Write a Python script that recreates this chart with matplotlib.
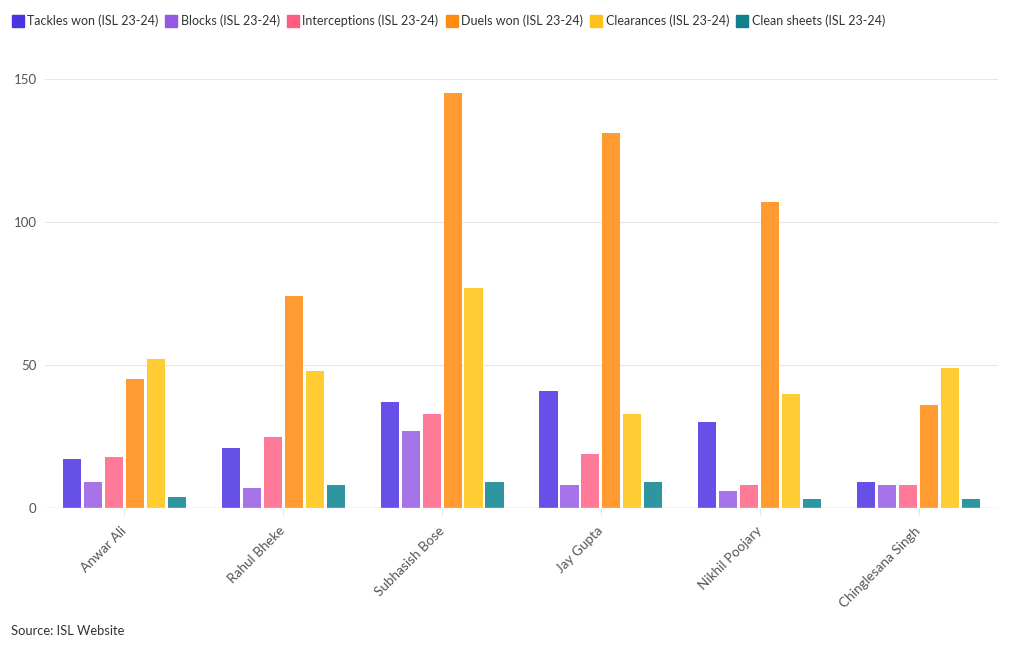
import numpy as np
import matplotlib.pyplot as plt
from matplotlib.lines import Line2D

# Data
players = ["Anwar Ali", "Rahul Bheke", "Subhasish Bose", "Jay Gupta",
           "Nikhil Poojary", "Chinglesana Singh"]
tackles = [17, 21, 37, 41, 30, 9]
blocks = [9, 7, 27, 8, 6, 8]
interceptions = [18, 25, 33, 19, 8, 8]
duels = [45, 74, 145, 131, 107, 36]
clearances = [52, 48, 77, 33, 40, 49]
clean_sheets = [4, 8, 9, 9, 3, 3]

series_names = ["Tackles won (ISL 23-24)", "Blocks (ISL 23-24)",
                "Interceptions (ISL 23-24)", "Duels won (ISL 23-24)",
                "Clearances (ISL 23-24)", "Clean sheets (ISL 23-24)"]
series = [tackles, blocks, interceptions, duels, clearances, clean_sheets]
bar_colors = ["#6650E8", "#A673E8", "#FF7A98", "#FF9B30", "#FFCD33", "#2E96A0"]
legend_colors = ["#4A33E0", "#9459E0", "#FF5C82", "#FF8A10", "#FFC21A", "#12808C"]

plt.rcParams['font.family'] = ['Lato', 'DejaVu Sans']

fig = plt.figure(figsize=(10.2, 6.5), dpi=100)
ax = fig.add_axes([45 / 1020, 1 - 508 / 650, 953 / 1020, 429 / 650])

x = np.arange(len(players))
pitch = 0.132
width = 0.114
for i, (vals, col) in enumerate(zip(series, bar_colors)):
    ax.bar(x + (i - 2.5) * pitch, vals, width=width, color=col, zorder=3)

ax.set_xlim(-0.5, len(players) - 0.5)
ax.set_ylim(0, 150)
ax.set_yticks([0, 50, 100, 150])
ax.yaxis.grid(True, color="#e6e6e6", linewidth=0.8, zorder=0)
ax.axhline(0, color="#dddddd", linewidth=1, zorder=4)
for s in ax.spines.values():
    s.set_visible(False)
ax.tick_params(axis="y", length=0, labelsize=9.5, labelcolor="#555555", pad=6)
ax.set_xticks(x)
ax.set_xticklabels(players, rotation=45, ha="right", va="center",
                   rotation_mode="anchor", fontsize=9.7, color="#555555")
ax.tick_params(axis="x", length=5, color="#e6e6e6", pad=10)

handles = [Line2D([], [], marker="s", linestyle="none", markersize=8.5,
                  markerfacecolor=c, markeredgecolor=c) for c in legend_colors]
fig.legend(handles, series_names, loc="upper left", bbox_to_anchor=(0.0, 0.995),
           ncol=6, frameon=False, fontsize=9.0, handletextpad=0.25,
           columnspacing=0.55, handlelength=1.0, labelcolor="#333333")

fig.text(11 / 1020, 1 - 631 / 650, "Source: ISL Website", fontsize=9.3,
         color="#333333", va="center")

fig.savefig("out.png", dpi=100)
